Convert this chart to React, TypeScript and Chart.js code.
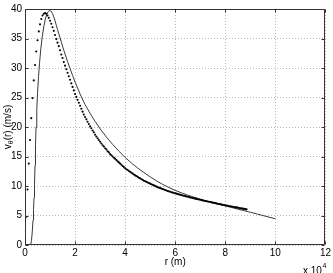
import { useEffect, useRef } from "react";
import { Chart, registerables } from "chart.js";
Chart.register(...registerables);

// x axis in units of 10^4 m
const xMin = 0;
const xMax = 12;
const xStep = 2;
const yMin = 0;
const yMax = 40;
const yStep = 5;

// solid curve
const solidR = [
  0.22, 0.26, 0.29, 0.32, 0.34, 0.36, 0.38, 0.4, 0.42, 0.44, 0.47, 0.5, 0.54, 0.58, 0.63, 0.69,
  0.75, 0.81, 0.87, 0.93, 0.99, 1.05, 1.1, 1.15, 1.2, 1.25, 1.3, 1.35, 1.4, 1.45, 1.5, 1.55, 1.6,
  1.7, 1.8, 1.9, 2.0, 2.1, 2.25, 2.4, 2.6, 2.8, 3.0, 3.25, 3.5, 3.75, 4.0, 4.25, 4.5, 4.75, 5.0,
  5.25, 5.5, 5.75, 6.0, 6.25, 6.5, 6.75, 7.0, 7.25, 7.5, 7.75, 8.0, 8.25, 8.5, 8.75, 9.0, 9.25,
  9.5, 9.75, 10.0,
];
const solidV = [
  0, 0.8, 2.2, 4.2, 6.0, 8.0, 10.2, 13.5, 17.0, 20.0, 23.0, 25.7, 28.5, 30.8, 33.2, 35.3,
  37.0, 38.3, 39.1, 39.6, 39.75, 39.6, 39.2, 38.65, 38.0, 37.25, 36.5, 35.8, 35.1, 34.4, 33.7, 33.0, 32.35,
  31.1, 29.9, 28.75, 27.65, 26.6, 25.1, 23.8, 22.3, 20.95, 19.7, 18.3, 17.05, 15.9, 14.85, 13.9, 13.05, 12.27, 11.55,
  10.88, 10.27, 9.74, 9.26, 8.84, 8.45, 8.1, 7.77, 7.46, 7.17, 6.89, 6.62, 6.36, 6.08, 5.82, 5.55, 5.28,
  5.0, 4.72, 4.45,
];

// dotted series, sampled every 0.05 (x 10^4 m) starting at 0
const dotStart = 0;
const dotStep = 0.05;
const dotV = [
  0, 4.8, 9.4, 13.8, 17.8, 21.5, 24.9, 27.9, 30.5, 32.8,
  34.7, 36.2, 37.4, 38.3, 38.9, 39.2, 39.3, 39.2, 38.9, 38.5,
  38.0, 37.5, 36.9, 36.3, 35.6, 34.9, 34.3, 33.7, 33.0, 32.3,
  31.7, 31.0, 30.4, 29.8, 29.2, 28.6, 28.0, 27.4, 26.8, 26.2,
  25.6, 25.1, 24.6, 24.1, 23.6, 23.1, 22.6, 22.1, 21.7, 21.3,
  20.9, 20.5, 20.1, 19.8, 19.4, 19.1, 18.7, 18.4, 18.1, 17.8,
  17.5, 17.2, 16.9, 16.7, 16.4, 16.2, 15.9, 15.7, 15.4, 15.2,
  15.0, 14.8, 14.6, 14.4, 14.2, 14.0, 13.8, 13.6, 13.4, 13.2,
  13.0, 12.85, 12.7, 12.55, 12.4, 12.25, 12.1, 11.95, 11.8, 11.7,
  11.55, 11.4, 11.3, 11.15, 11.05, 10.9, 10.8, 10.7, 10.6, 10.5,
  10.4, 10.3, 10.2, 10.1, 10.0, 9.9, 9.8, 9.72, 9.64, 9.56,
  9.48, 9.4, 9.32, 9.24, 9.16, 9.09, 9.02, 8.95, 8.88, 8.82,
  8.76, 8.7, 8.64, 8.58, 8.52, 8.46, 8.4, 8.34, 8.28, 8.23,
  8.18, 8.12, 8.07, 8.02, 7.96, 7.91, 7.86, 7.81, 7.76, 7.71,
  7.66, 7.61, 7.56, 7.51, 7.46, 7.42, 7.37, 7.32, 7.28, 7.23,
  7.18, 7.14, 7.09, 7.05, 7.0, 6.96, 6.92, 6.87, 6.83, 6.79,
  6.75, 6.7, 6.66, 6.62, 6.58, 6.53, 6.49, 6.45, 6.41, 6.37,
  6.33, 6.28, 6.24, 6.2, 6.16, 6.12, 6.08, 6.04,
];

const FONT = "'Liberation Sans', Arial, Helvetica, sans-serif";
const AXIS_COLOR = "#333";

const framePlugin = {
  id: "matlabFrame",
  afterDraw(chart: any) {
    const { ctx, chartArea } = chart;
    const { left, right, top, bottom } = chartArea;
    const xs = chart.scales.x;
    const ys = chart.scales.y;
    const L = Math.round(left) + 0.5;
    const R = Math.round(right) - 0.5;
    const T = Math.round(top) + 0.5;
    const B = Math.round(bottom) - 0.5;
    ctx.save();
    ctx.strokeStyle = AXIS_COLOR;
    ctx.lineWidth = 1;
    ctx.beginPath();
    ctx.rect(L, T, R - L, B - T);
    ctx.stroke();
    // inward ticks
    const tl = 3;
    ctx.beginPath();
    for (let v = xMin; v <= xMax; v += xStep) {
      const px = Math.round(xs.getPixelForValue(v)) + 0.5;
      ctx.moveTo(px, B);
      ctx.lineTo(px, B - tl);
      ctx.moveTo(px, T);
      ctx.lineTo(px, T + tl);
    }
    for (let v = yMin; v <= yMax; v += yStep) {
      const py = Math.round(ys.getPixelForValue(v)) + 0.5;
      ctx.moveTo(L, py);
      ctx.lineTo(L + tl, py);
      ctx.moveTo(R, py);
      ctx.lineTo(R - tl, py);
    }
    ctx.stroke();

    // y title: v_θ(r) (m/s)
    ctx.fillStyle = "#000";
    ctx.textBaseline = "middle";
    ctx.textAlign = "left";
    const cy = (top + bottom) / 2;
    ctx.translate(8.5, cy);
    ctx.rotate(-Math.PI / 2);
    const f1 = `10px ${FONT}`;
    const f2 = `7px ${FONT}`;
    ctx.font = f1;
    const w1 = ctx.measureText("v").width;
    const w3 = ctx.measureText("(r) (m/s)").width;
    ctx.font = f2;
    const w2 = ctx.measureText("θ").width;
    let sx = -(w1 + w2 + w3) / 2;
    ctx.font = f1;
    ctx.fillText("v", sx, 0);
    sx += w1;
    ctx.font = f2;
    ctx.fillText("θ", sx, 3);
    sx += w2;
    ctx.font = f1;
    ctx.fillText("(r) (m/s)", sx, 0);
    ctx.setTransform(1, 0, 0, 1, 0, 0);

    // x title
    ctx.font = f1;
    ctx.textAlign = "center";
    ctx.textBaseline = "middle";
    ctx.fillText("r (m)", (left + right) / 2, 262);

    // x 10^4
    ctx.textAlign = "left";
    ctx.textBaseline = "alphabetic";
    ctx.fillText("x 10", 303, 273.5);
    const wx = ctx.measureText("x 10").width;
    ctx.font = f2;
    ctx.fillText("4", 303 + wx + 0.5, 268);
    ctx.restore();
  },
};

export default function App() {
  const ref = useRef<HTMLCanvasElement | null>(null);
  useEffect(() => {
    document.body.style.margin = "0";
    const canvas = ref.current;
    if (!canvas) return;
    const solidData = solidR.map((r, i) => ({ x: r, y: solidV[i] }));
    const dotData = dotV.map((v, i) => ({ x: dotStart + i * dotStep, y: v }));
    const chart = new Chart(canvas, {
      type: "scatter",
      data: {
        datasets: [
          {
            data: dotData,
            showLine: false,
            pointRadius: 1.05,
            pointBorderWidth: 0,
            pointBackgroundColor: "#000",
            pointBorderColor: "#000",
          },
          {
            data: solidData,
            showLine: true,
            borderColor: "#3a3a3a",
            borderWidth: 1,
            pointRadius: 0,
            tension: 0,
          },
        ],
      },
      options: {
        animation: false,
        responsive: false,
        devicePixelRatio: 1,
        layout: { padding: { left: 0, top: 7, right: 7, bottom: 0 } },
        plugins: { legend: { display: false }, tooltip: { enabled: false } },
        scales: {
          x: {
            type: "linear",
            min: xMin,
            max: xMax,
            ticks: { stepSize: xStep, color: "#000", font: { family: FONT, size: 10 }, padding: 2, maxRotation: 0 },
            grid: { color: "#b8b8b8", drawTicks: false, lineWidth: 1 },
            border: { display: false, dash: [1, 2] },
            afterFit: (s: any) => {
              s.height = 28;
            },
          },
          y: {
            type: "linear",
            min: yMin,
            max: yMax,
            ticks: { stepSize: yStep, color: "#000", font: { family: FONT, size: 10 }, padding: 3 },
            grid: { color: "#b8b8b8", drawTicks: false, lineWidth: 1 },
            border: { display: false, dash: [1, 2] },
            afterFit: (s: any) => {
              s.width = 25;
            },
          },
        },
      },
      plugins: [framePlugin],
    });
    return () => chart.destroy();
  }, []);
  return (
    <div style={{ width: 333, height: 273 }}>
      <canvas ref={ref} width={333} height={273} style={{ display: "block" }} />
    </div>
  );
}
